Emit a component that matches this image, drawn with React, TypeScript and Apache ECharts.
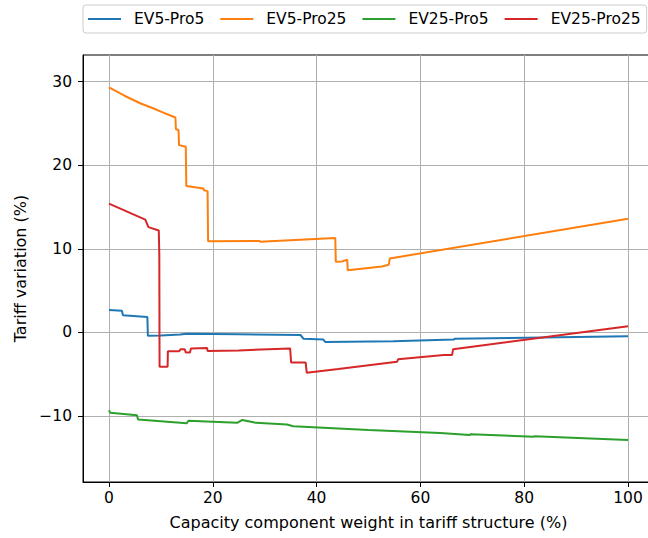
import React, { useEffect, useRef } from "react";
import * as echarts from "echarts";

const seriesNames = ["EV5-Pro5", "EV5-Pro25", "EV25-Pro5", "EV25-Pro25"];
const seriesColors = ["#1f77b4", "#ff7f0e", "#2ca02c", "#d62728"];

const ev5Pro5: [number, number][] = [
  [0, 2.7], [2.5, 2.6], [2.7, 2.07], [7.4, 1.85], [7.5, -0.4], [10, -0.35],
  [13.7, -0.25], [15, -0.15], [25, -0.2], [36.9, -0.3], [37.5, -0.75],
  [41.3, -0.85], [41.7, -1.15], [54.8, -1.05], [66.4, -0.85], [66.6, -0.75],
  [100, -0.45],
];

const ev5Pro25: [number, number][] = [
  [0, 29.3], [3, 28.3], [6, 27.4], [8.5, 26.8], [10, 26.4], [12.8, 25.7],
  [12.9, 24.3], [13.4, 24.2], [13.5, 22.4], [14.8, 22.2], [14.9, 17.5],
  [18.2, 17.2], [18.3, 17.0], [19.0, 16.9], [19.1, 10.9], [29, 10.95],
  [29.1, 10.85], [43.6, 11.3], [43.7, 8.45], [44.9, 8.5], [45.9, 8.7],
  [46.0, 7.45], [52.6, 7.9], [53.9, 8.1], [54.1, 8.85], [100, 13.6],
];

const ev25Pro5: [number, number][] = [
  [0, -9.3], [0.25, -9.6], [5.4, -9.9], [5.6, -10.4], [15.0, -10.85],
  [15.3, -10.55], [24.7, -10.8], [25.7, -10.45], [28.3, -10.8], [34.3, -11.0],
  [35.5, -11.2], [50, -11.65], [63.8, -12.0], [69.5, -12.25], [69.7, -12.15],
  [81.8, -12.45], [82, -12.4], [100, -12.85],
];

const ev25Pro25: [number, number][] = [
  [0, 15.4], [7.0, 13.5], [7.6, 12.6], [9.6, 12.2], [9.7, 9.3], [9.75, -4.1],
  [11.3, -4.1], [11.35, -2.25], [13.5, -2.25], [13.8, -2.0], [14.6, -2.0],
  [14.8, -2.4], [15.6, -2.4], [15.8, -1.9], [18.9, -1.85], [19.0, -2.2],
  [25, -2.15], [34.9, -1.9], [35.1, -3.6], [37.9, -3.6], [38.1, -4.8],
  [44.2, -4.35], [55.5, -3.5], [55.7, -3.2], [64.5, -2.7], [66.1, -2.7],
  [66.3, -2.0], [100, 0.75],
];

const allSeries = [ev5Pro5, ev5Pro25, ev25Pro5, ev25Pro25];

const xTicks = [0, 20, 40, 60, 80, 100];
const yTicks = [-10, 0, 10, 20, 30];

const xTitle = "Capacity component weight in tariff structure (%)";
const yTitle = "Tariff variation (%)";

const FONT = "DejaVu Sans";
const FS = 15.5;
const TITLE_FS = 16;

export default function App() {
  const ref = useRef<HTMLDivElement>(null);
  useEffect(() => {
    const chart = echarts.init(ref.current as HTMLDivElement, null, { renderer: "svg" });
    chart.setOption({
      animation: false,
      backgroundColor: "#ffffff",
      textStyle: { fontFamily: FONT },
      legend: {
        left: 83,
        top: 5,
        padding: [5, 6, 5, 5],
        icon: "rect",
        itemWidth: 33,
        itemHeight: 2,
        itemGap: 16,
        borderColor: "#cccccc",
        borderWidth: 1,
        borderRadius: 3,
        textStyle: { fontFamily: FONT, fontSize: FS, color: "#000", padding: [0, 0, 0, 8], lineHeight: 18 },
        data: seriesNames,
      },
      grid: {
        left: 83,
        top: 55,
        right: 6,
        bottom: 56,
        show: true,
        borderColor: "#000",
        borderWidth: 1,
        backgroundColor: "transparent",
      },
      xAxis: {
        type: "value",
        min: -5,
        max: 105,
        splitNumber: 5,
        name: xTitle,
        nameLocation: "middle",
        nameGap: 32,
        nameTextStyle: { fontFamily: FONT, fontSize: TITLE_FS, color: "#000" },
        axisLine: { show: true, onZero: false, lineStyle: { color: "#000", width: 1 } },
        axisTick: { show: true, length: 5, customValues: xTicks, lineStyle: { color: "#000", width: 1 } },
        axisLabel: { customValues: xTicks, fontFamily: FONT, fontSize: FS, color: "#000", margin: 8 },
        splitLine: { show: true, customValues: xTicks, lineStyle: { color: "#b0b0b0", width: 1 } },
      },
      yAxis: {
        type: "value",
        min: -17.87,
        max: 33.17,
        splitNumber: 5,
        name: yTitle,
        nameLocation: "middle",
        nameGap: 50.5,
        nameTextStyle: { fontFamily: FONT, fontSize: TITLE_FS, color: "#000" },
        axisLine: { show: true, onZero: false, lineStyle: { color: "#000", width: 1 } },
        axisTick: { show: true, length: 5, customValues: yTicks, lineStyle: { color: "#000", width: 1 } },
        axisLabel: {
          customValues: yTicks,
          fontFamily: FONT,
          fontSize: FS,
          color: "#000",
          margin: 11,
          formatter: (v: number) => (v < 0 ? "\u2212" + Math.abs(v) : String(v)),
        },
        splitLine: { show: true, customValues: yTicks, lineStyle: { color: "#b0b0b0", width: 1 } },
      },
      series: allSeries.map((d, i) => ({
        name: seriesNames[i],
        type: "line",
        data: d,
        symbol: "none",
        color: seriesColors[i],
        lineStyle: { color: seriesColors[i], width: 2 },
        clip: true,
      })),
    });
    return () => chart.dispose();
  }, []);
  return (
    <div
      style={{
        position: "fixed",
        left: 0,
        top: 0,
        width: 648,
        height: 538,
        overflow: "hidden",
        background: "#fff",
      }}
    >
      <div ref={ref} style={{ width: 660, height: 538 }} />
    </div>
  );
}
